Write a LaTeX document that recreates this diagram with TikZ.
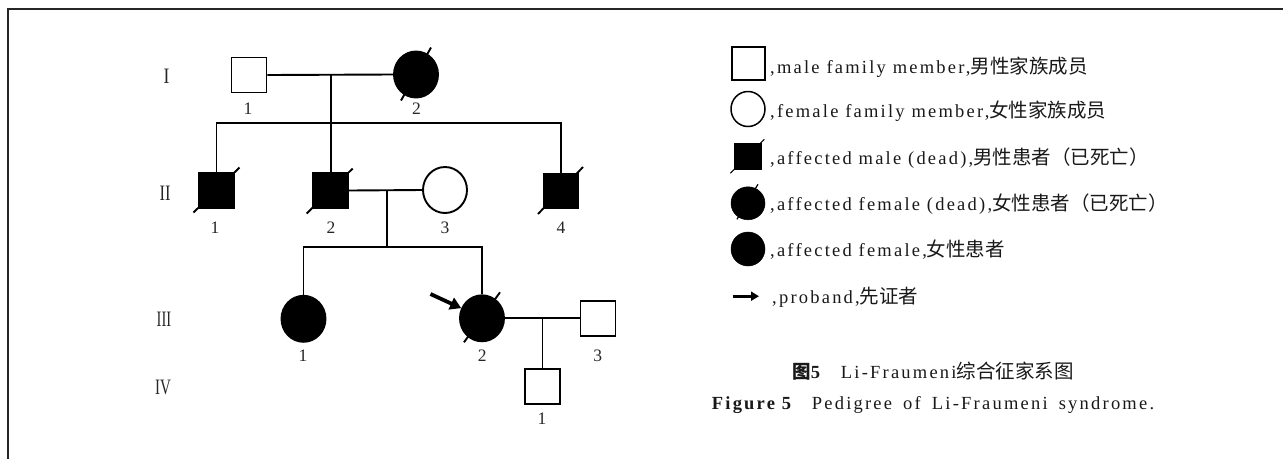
\documentclass[tikz,border=0pt]{standalone}
\usepackage{fontspec}
\usepackage{graphicx}
\setmainfont{Liberation Serif}
\newfontfamily\cjk{Noto Sans CJK SC}
\newfontfamily\lsp[LetterSpace=12]{Liberation Serif}
\usetikzlibrary{shapes.geometric,arrows.meta}
\newcommand{\romnum}[2]{\scalebox{#1}[1]{#2}}
\begin{document}
\begin{tikzpicture}[x=1pt,y=-1pt,
  lw/.style={line width=1.9pt},
  male/.style={draw, rectangle, line width=1.9pt, minimum width=35pt, minimum height=35pt, inner sep=0pt},
  female/.style={draw, ellipse, line width=1.9pt, minimum width=44pt, minimum height=46pt, inner sep=0pt},
  aff/.style={fill=black},
  num/.style={inner sep=0pt, text=black!85, font=\fontsize{17.5}{17.5}\selectfont},
  gen/.style={inner sep=0pt, text=black!85, font=\fontsize{22}{22}\selectfont},
  leg/.style={anchor=base west, inner sep=0pt, text=black!90, font=\lsp\fontsize{18.5}{20}\selectfont},
  captext/.style={anchor=base, inner sep=0pt, text=black!90, font=\lsp\fontsize{18.5}{20}\selectfont}
]
\useasboundingbox (0,0) rectangle (1283,459);
% frame
\draw[line width=2pt, black!85] (1283,9) -- (8.3,9) -- (8.3,459);

% generation numerals
\node[gen] (gI) at (166.5,76) {\romnum{0.8}{I}};
\node[gen] (gII) at (165,193) {\romnum{0.75}{II}};
\node[gen] (gIII) at (164,319) {\romnum{0.66}{III}};
\node[gen] (gIV) at (163,387) {\romnum{0.68}{IV}};

% generation I
\node[male] (I1) at (249,75) {};
\node[female,aff] (I2) at (416,74.5) {};
\node[num] (nI1) at (248,108.5) {1};
\node[num] (nI2) at (416.5,108.5) {2};
\coordinate (dI) at (330.7,74.5);
\coordinate (sI) at (330.7,122.7);

% generation II
\node[male,aff] (II1) at (216.5,190.5) {};
\node[male,aff] (II2) at (330.7,190.5) {};
\node[female] (II3) at (445,190) {};
\node[male,aff] (II4) at (561,191) {};
\node[num] (nII1) at (215,227.5) {1};
\node[num] (nII2) at (331,227.5) {2};
\node[num] (nII3) at (445,227.5) {3};
\node[num] (nII4) at (561,227.5) {4};
\coordinate (dII) at (387.3,190.5);
\coordinate (sII) at (387.3,247.3);

% generation III
\node[female,aff] (III1) at (303.5,318.8) {};
\node[female,aff] (III2) at (482,318.3) {};
\node[male] (III3) at (598,318.3) {};
\node[num] (nIII1) at (303,356) {1};
\node[num] (nIII2) at (482.3,356) {2};
\node[num] (nIII3) at (597.7,356) {3};
\coordinate (dIII) at (542.5,318.3);

% generation IV
\node[male] (IV1) at (542.5,386.7) {};
\node[num] (nIV1) at (542,419) {1};

% connectors
\draw[lw] (I1.east) -- (I2.west);
\draw[lw] (dI) -- (II2.north);
\draw[lw] (II1.north) |- (sI) -| (II4.north);
\draw[lw] (II2.east) -- (II3.west);
\draw[lw] (dII) -- (sII);
\draw[lw] (III1.north) |- (sII) -| (III2.north);
\draw[lw] (III2.east) -- (III3.west);
\draw[lw] (dIII) -- (IV1.north);

% deceased slashes
\draw[lw] ([shift={(-15,26)}]I2.center) -- ([shift={(15,-27)}]I2.center);
\draw[lw] ([shift={(-23,22)}]II1.center) -- ([shift={(23,-23)}]II1.center);
\draw[lw] ([shift={(-24,23)}]II2.center) -- ([shift={(22,-22)}]II2.center);
\draw[lw] ([shift={(-23,23)}]II4.center) -- ([shift={(22,-24)}]II4.center);
\draw[lw] ([shift={(-18,24)}]III2.center) -- ([shift={(18,-26)}]III2.center);

% proband arrow
\coordinate (pa) at (430.5,294);
\draw[line width=3.8pt, -{Triangle[length=11pt,width=12.5pt]}] (pa) -- (III2.154);

% legend
\node[male, minimum width=33pt, minimum height=33pt] (L1) at (748.3,63.3) {};
\node[female, line width=1.5pt, minimum width=34pt, minimum height=35pt] (L2) at (748,109) {};
\node[male, aff, minimum width=27pt, minimum height=26pt, line width=0.5pt] (L3) at (747.3,156.3) {};
\node[female, aff, minimum width=34pt, minimum height=33pt, line width=0.5pt] (L4) at (748,203.3) {};
\node[female, aff, minimum width=34pt, minimum height=34pt, line width=0.5pt] (L5) at (748,249) {};
\draw[line width=1.2pt] ([shift={(-17,17)}]L3.center) -- ([shift={(17,-17)}]L3.center);
\draw[line width=1.2pt] ([shift={(-11,16)}]L4.center) -- ([shift={(10,-19)}]L4.center);
\coordinate (la1) at (732.7,296.2);
\coordinate (la2) at (759,296.2);
\draw[line width=2.8pt, -{Triangle[length=8pt,width=9pt]}] (la1) -- (la2);

\node[leg] (t1) at (770,73.3) {,male family member,{\cjk\fontsize{19.5}{20}\selectfont 男性家族成员}};
\node[leg] (t2) at (770,117.3) {,female family member,{\cjk\fontsize{19.5}{20}\selectfont 女性家族成员}};
\node[leg] (t3) at (770,164) {,affected male (dead),{\cjk\fontsize{19.5}{20}\selectfont 男性患者（已死亡）}};
\node[leg] (t4) at (770,210.7) {,affected female (dead),{\cjk\fontsize{19.5}{20}\selectfont 女性患者（已死亡）}};
\node[leg] (t5) at (770,256.7) {,affected female,{\cjk\fontsize{19.5}{20}\selectfont 女性患者}};
\node[leg] (t6) at (772,303.6) {,proband,{\cjk\fontsize{19.5}{20}\selectfont 先证者}};

% caption
\node[captext] (c1) at (933,378) {{\cjk\bfseries 图}\textbf{5}\hspace{1em}Li-Fraumeni{\cjk\fontsize{19.5}{20}\selectfont 综合征家系图}};
\node[captext] (c2) at (933,409.6) {\textbf{Figure\ 5}\hspace{1em}Pedigree\hspace{0.6em}of\hspace{0.6em}Li-Fraumeni\hspace{0.6em}syndrome.};
\end{tikzpicture}
\end{document}
